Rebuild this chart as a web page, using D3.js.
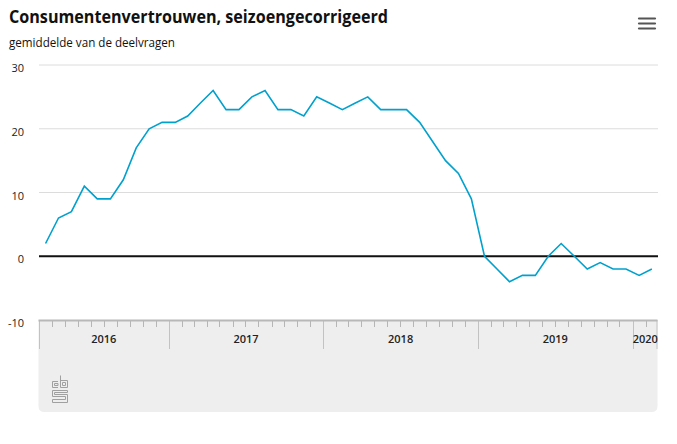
<!DOCTYPE html>
<html><head><meta charset="utf-8">
<script src="https://cdn.jsdelivr.net/npm/d3@7"></script>
<style>
html,body{margin:0;padding:0;background:#fff;}
svg{display:block;font-family:"Open Sans","Noto Sans",sans-serif;}
</style></head>
<body>
<svg id="c" width="677" height="444"></svg>
<script>
const title = "Consumentenvertrouwen, seizoengecorrigeerd";
const subtitle = "gemiddelde van de deelvragen";
const months = ["2016-03","2016-04","2016-05","2016-06","2016-07","2016-08","2016-09","2016-10","2016-11","2016-12",
"2017-01","2017-02","2017-03","2017-04","2017-05","2017-06","2017-07","2017-08","2017-09","2017-10","2017-11","2017-12",
"2018-01","2018-02","2018-03","2018-04","2018-05","2018-06","2018-07","2018-08","2018-09","2018-10","2018-11","2018-12",
"2019-01","2019-02","2019-03","2019-04","2019-05","2019-06","2019-07","2019-08","2019-09","2019-10","2019-11","2019-12",
"2020-01","2020-02"];
const values = [2,6,7,11,9,9,12,17,20,21,
21,22,24,26,23,23,25,26,23,23,22,25,
24,23,24,25,23,23,23,21,18,15,13,9,
0,-2,-4,-3,-3,0,2,0,-2,-1,-2,-2,
-3,-2];
const yTicks = [-10,0,10,20,30];
const yearLabels = ["2016","2017","2018","2019","2020"];

const svg = d3.select("#c");
const parse = d3.timeParse("%Y-%m");
const dates = months.map(parse);
const start = dates[0], end = d3.timeMonth.offset(dates[dates.length-1],1);
const x = d3.scaleTime().domain([start,end]).range([39,658]);
const y = d3.scaleLinear().domain([-10,30]).range([320,65]);
const mid = d => new Date((d.getTime()+d3.timeMonth.offset(d,1).getTime())/2);

// title
svg.append("text").attr("x",9).attr("y",23).attr("font-size",18.5).attr("font-weight",700)
  .attr("fill","#111").attr("textLength",379).attr("lengthAdjust","spacingAndGlyphs").text(title);
svg.append("text").attr("x",9).attr("y",47).attr("font-size",12).attr("fill","#111")
  .attr("textLength",166).attr("lengthAdjust","spacingAndGlyphs").text(subtitle);

// menu icon
[18.5,23.5,28.5].forEach(yy=>svg.append("line").attr("x1",639).attr("x2",655).attr("y1",yy).attr("y2",yy)
  .attr("stroke","#555").attr("stroke-width",2.2).attr("stroke-linecap","round"));

// bottom axis box
const bx0=38.5,bx1=657.5,by0=320,by1=412,r=6;
svg.append("path").attr("fill","#eeeeee")
  .attr("d",`M${bx0},${by0}H${bx1}V${by1-r}Q${bx1},${by1} ${bx1-r},${by1}H${bx0+r}Q${bx0},${by1} ${bx0},${by1-r}Z`);

// gridlines
const gy = svg.append("g");
yTicks.filter(t=>t>0).forEach(t=>gy.append("line").attr("x1",39).attr("x2",658)
  .attr("y1",y(t)).attr("y2",y(t)).attr("stroke","#dcdcdc").attr("stroke-width",1));

// y labels
const yAxis = d3.axisLeft(y).tickValues(yTicks).tickSize(0).tickPadding(0).tickFormat(d=>String(d));
const ya = svg.append("g").attr("transform","translate(24,3)").call(yAxis);
ya.select(".domain").remove();
ya.selectAll("text").attr("font-size",11).attr("fill","#222").attr("font-family","'Open Sans',sans-serif");

// month ticks
const monthTicks = d3.timeMonth.range(d3.timeMonth.offset(start,1), end).filter(d=>d.getMonth()!==0);
svg.append("g").selectAll("line").data(monthTicks).join("line")
  .attr("x1",d=>Math.round(x(d))+0.5).attr("x2",d=>Math.round(x(d))+0.5)
  .attr("y1",320).attr("y2",327).attr("stroke","#b5b5b5").attr("stroke-width",1);
// year separators
const yearStarts = d3.timeYear.range(start,end);
const seps = [start].concat(yearStarts);
svg.append("g").selectAll("line").data(seps).join("line")
  .attr("x1",d=>Math.round(x(d))+0.5).attr("x2",d=>Math.round(x(d))+0.5)
  .attr("y1",320).attr("y2",349).attr("stroke","#c2c2c2").attr("stroke-width",1);
svg.append("line").attr("x1",bx1-0.5).attr("x2",bx1-0.5).attr("y1",320).attr("y2",349).attr("stroke","#c2c2c2");
// top border
svg.append("line").attr("x1",bx0).attr("x2",bx1).attr("y1",320.5).attr("y2",320.5)
  .attr("stroke","#b8b8b8").attr("stroke-width",2);

// year labels
const bounds = seps.concat([end]);
svg.append("g").selectAll("text").data(yearLabels).join("text")
  .attr("x",(d,i)=>(x(bounds[i])+x(bounds[i+1]))/2).attr("y",343)
  .attr("text-anchor","middle").attr("font-size",11).attr("font-weight",600).attr("fill","#222")
  .text(d=>d);

// zero line
svg.append("line").attr("x1",39).attr("x2",658).attr("y1",y(0)).attr("y2",y(0))
  .attr("stroke","#111").attr("stroke-width",2);

// data line
const line = d3.line().x((d,i)=>x(mid(dates[i]))).y(d=>y(d));
svg.append("path").datum(values).attr("d",line).attr("fill","none")
  .attr("stroke","#00a1cd").attr("stroke-width",1.6).attr("stroke-linejoin","miter");

// cbs logo
const lg = svg.append("g").attr("transform","translate(51,375)").attr("fill","none")
  .attr("stroke","#a0a0a0").attr("stroke-width",1);
lg.append("path").attr("d","M7,6.5H1.5V12.5H7");
lg.append("path").attr("d","M3.5,8.5H7V10.5H3.5Z");
lg.append("path").attr("d","M9.5,0.5V12.5H16.5V5.5H9.5");
lg.append("path").attr("d","M11.5,7.5H14.5V10.5H11.5Z");
lg.append("path").attr("d","M16.5,15.5H1.5V21.5H14.5V24.5H1.5V27.5H16.5V19.5H3.5V17.5H16.5Z");
</script>
</body></html>
